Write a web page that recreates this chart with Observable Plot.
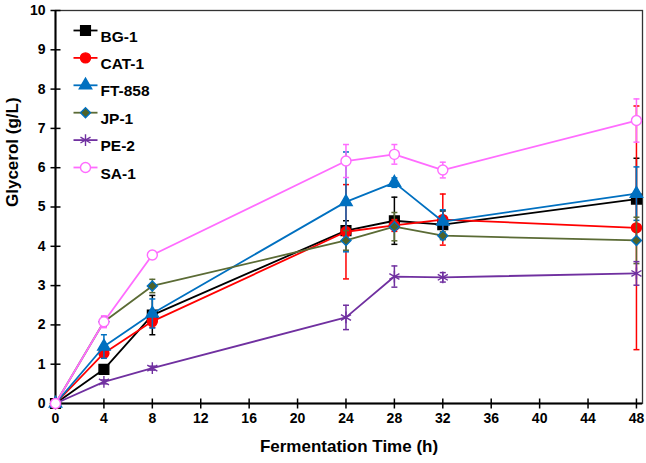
<!DOCTYPE html>
<html>
<head>
<meta charset="utf-8">
<script src="https://cdn.jsdelivr.net/npm/d3@7"></script>
<script src="https://cdn.jsdelivr.net/npm/@observablehq/plot@0.6"></script>
<style>
  body { margin: 0; background: white; }
  #chart { width: 646px; height: 463px; }
</style>
</head>
<body>
<div id="chart"></div>
<script>
// sampling times (h)
const hours = [0, 4, 8, 24, 28, 32, 48];
const names = ["BG-1", "CAT-1", "FT-858", "JP-1", "PE-2", "SA-1"];

// glycerol means (g/L) and error bars per strain
const bg1 = [0, 0.87, 2.25, 4.40, 4.65, 4.55, 5.20];
const bg1Err = [0, 0.05, 0.50, 0.25, 0.60, 0.35, 1.04];
const cat1 = [0, 1.28, 2.09, 4.37, 4.53, 4.68, 4.47];
const cat1Err = [0, 0.08, 0.15, 1.20, 0.15, 0.65, 3.10];
const ft858 = [0, 1.45, 2.29, 5.13, 5.62, 4.63, 5.34];
const ft858Err = [0, 0.30, 0.37, 1.27, 0.12, 0.30, 0.68];
const jp1 = [0, 2.08, 2.99, 4.15, 4.50, 4.27, 4.15];
const jp1Err = [0, 0.12, 0.17, 0.25, 0.36, 0.10, 0.59];
const pe2 = [0, 0.55, 0.90, 2.19, 3.23, 3.21, 3.31];
const pe2Err = [0, 0.05, 0.05, 0.31, 0.27, 0.12, 0.30];
const sa1 = [0, 2.08, 3.78, 6.17, 6.34, 5.94, 7.20];
const sa1Err = [0, 0.15, 0.10, 0.42, 0.25, 0.20, 0.55];

const xTicks = [0, 4, 8, 12, 16, 20, 24, 28, 32, 36, 40, 44, 48];
const yTicks = [0, 1, 2, 3, 4, 5, 6, 7, 8, 9, 10];

const means = [bg1, cat1, ft858, jp1, pe2, sa1];
const errs = [bg1Err, cat1Err, ft858Err, jp1Err, pe2Err, sa1Err];

// simple line symbols for caps and axis ticks, plus a square-ish diamond
const hLine = {draw(ctx, size) { const r = Math.sqrt(size / Math.PI); ctx.moveTo(-r, 0); ctx.lineTo(r, 0); }};
const vLine = {draw(ctx, size) { const r = Math.sqrt(size / Math.PI); ctx.moveTo(0, -r); ctx.lineTo(0, r); }};
const rhomb = {draw(ctx, size) {
  const r = Math.sqrt(size / Math.PI);
  ctx.moveTo(0, -r); ctx.lineTo(r, 0); ctx.lineTo(0, r); ctx.lineTo(-r, 0); ctx.closePath();
}};

// look of each series
const styles = [
  {line: "#000000", symbol: "square", fill: "#000000", stroke: "#000000", r: 5.5},
  {line: "#ff0000", symbol: "circle", fill: "#ff0000", stroke: "#ff0000", r: 5},
  {line: "#0070c0", symbol: "triangle", fill: "#0070c0", stroke: "#0070c0", r: 4.6},
  {line: "#5b6b35", symbol: rhomb, fill: "#4f6228", stroke: "#0070c0", r: 5},
  {line: "#7030a0", symbol: "asterisk", fill: "none", stroke: "#7030a0", r: 5.5},
  {line: "#ff6cff", symbol: "circle", fill: "white", stroke: "#ff6cff", r: 5}
];

const rows = names.map((n, i) => hours.map((h, j) => ({series: n, t: h, v: means[i][j], e: errs[i][j]})));

const marks = [];

rows.forEach((data, i) => {
  const s = styles[i];
  const withErr = data.filter(d => d.e > 0);
  marks.push(
    Plot.ruleX(withErr, {x: "t", y1: d => d.v - d.e, y2: d => d.v + d.e, stroke: s.line, strokeWidth: 1.5}),
    Plot.dot(withErr, {x: "t", y: d => d.v + d.e, symbol: hLine, r: 3, fill: "none", stroke: s.line, strokeWidth: 1.5}),
    Plot.dot(withErr, {x: "t", y: d => d.v - d.e, symbol: hLine, r: 3, fill: "none", stroke: s.line, strokeWidth: 1.5}),
    Plot.line(data, {x: "t", y: "v", stroke: s.line, strokeWidth: 1.8}),
    Plot.dot(data, {x: "t", y: "v", symbol: s.symbol, r: s.r, fill: s.fill, stroke: s.stroke, strokeWidth: 1.4})
  );
});

// legend entries in the top-left of the frame
names.forEach((n, i) => {
  const s = styles[i];
  const dy = 20 + 27.4 * i;
  marks.push(
    Plot.dot([n], {frameAnchor: "top-left", dx: 30, dy, symbol: hLine, r: 12, fill: "none", stroke: s.line, strokeWidth: 1.8}),
    Plot.dot([n], {frameAnchor: "top-left", dx: 30, dy, symbol: s.symbol, r: s.r, fill: s.fill, stroke: s.stroke, strokeWidth: 1.4}),
    Plot.text([n], {frameAnchor: "top-left", dx: 45, dy, text: d => d, textAnchor: "start", fontSize: 15.5, fontWeight: "bold", fill: "black"})
  );
});

const chart = Plot.plot({
  width: 646,
  height: 463,
  marginLeft: 55,
  marginRight: 4,
  marginTop: 10,
  marginBottom: 60,
  style: {fontFamily: "'Liberation Sans', Arial, sans-serif", background: "white", color: "black"},
  x: {domain: [0, 48.5], label: null},
  y: {domain: [0, 10], label: null},
  marks: [
    Plot.frame({stroke: "#333", strokeWidth: 1.3}),
    Plot.axisX({ticks: xTicks, tickSize: 0, tickPadding: 10, fontSize: 14, fontWeight: "bold", label: null}),
    Plot.axisY({ticks: yTicks, tickSize: 0, tickPadding: 10, fontSize: 14, fontWeight: "bold", label: null}),
    Plot.ruleX([0], {stroke: "black", strokeWidth: 2}),
    Plot.ruleY([0], {stroke: "black", strokeWidth: 2}),
    Plot.dot(yTicks, {x: 0, y: d => d, symbol: hLine, r: 5, fill: "none", stroke: "black", strokeWidth: 1.5}),
    Plot.dot(xTicks, {x: d => d, y: 0, symbol: vLine, r: 5, fill: "none", stroke: "black", strokeWidth: 1.5}),
    Plot.text(["Glycerol (g/L)"], {frameAnchor: "left", dx: -43, rotate: -90, text: d => d, fontSize: 17, fontWeight: "bold", fill: "black"}),
    Plot.text(["Fermentation Time (h)"], {frameAnchor: "bottom", dy: 48, text: d => d, fontSize: 17, fontWeight: "bold", fill: "black"}),
    ...marks
  ]
});

document.getElementById("chart").append(chart);
</script>
</body>
</html>
